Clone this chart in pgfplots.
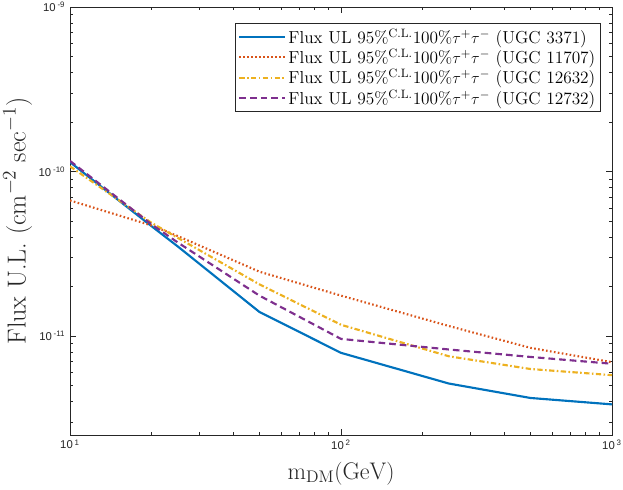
\documentclass[border=0pt]{standalone}
\usepackage{fontspec}
\usepackage{pgfplots}
\pgfplotsset{compat=1.18}
\newfontfamily\tickfont{Liberation Sans}
\definecolor{c1}{rgb}{0,0.447,0.741}
\definecolor{c2}{rgb}{0.850,0.325,0.098}
\definecolor{c3}{rgb}{0.929,0.694,0.125}
\definecolor{c4}{rgb}{0.494,0.184,0.556}
\definecolor{axc}{rgb}{0.15,0.15,0.15}
\newcommand{\lt}[1]{Flux UL 95\%$^{\mathrm{C.L.}}$100\%$\tau^{+}\tau^{-}$ (UGC #1)}
\newcommand{\tl}[1]{{\tickfont 10\,\textsuperscript{#1}}}
\begin{document}
\begin{tikzpicture}
\begin{axis}[
  name=ax,
  scale only axis,
  width=406.5pt, height=321pt,
  xmode=log, ymode=log,
  xmin=10, xmax=1000, ymin=2.5e-12, ymax=1e-9,
  axis line style={axc, line width=0.5pt},
  every tick/.style={axc, line width=0.5pt},
  tick align=inside,
  major tick length=4.5pt, minor tick length=2.5pt,
  xtick={10,100,1000},
  xticklabels={\tl{1},\tl{2},\tl{3}},
  minor xtick={20,30,40,50,60,70,80,90,200,300,400,500,600,700,800,900},
  ytick={1e-11,1e-10,1e-9},
  yticklabels={\tl{-11},\tl{-10},\tl{-9}},
  minor ytick={3e-12,4e-12,5e-12,6e-12,7e-12,8e-12,9e-12,2e-11,3e-11,4e-11,5e-11,6e-11,7e-11,8e-11,9e-11,2e-10,3e-10,4e-10,5e-10,6e-10,7e-10,8e-10,9e-10},
  tick label style={font=\fontsize{8.5}{10}\selectfont, text=axc},
  xlabel={$\mathrm{m_{DM}(GeV)}$},
  ylabel={Flux U.L. (cm$^{-2}$ sec$^{-1}$)},
  xlabel style={at={(axis description cs:0.5,-0.0903)}, anchor=center, font=\fontsize{18}{21}\selectfont, text=axc},
  ylabel style={at={(axis description cs:-0.0965,0.5)}, anchor=center, font=\fontsize{19.5}{23}\selectfont, text=axc},
  legend cell align=left,
  legend image code/.code={\draw[#1] (0pt,0pt) -- (34pt,0pt);},
  legend style={at={(axis description cs:0.9797,0.9626)}, anchor=north east,
    draw=axc, line width=0.5pt, font=\fontsize{13}{15}\selectfont,
    inner xsep=2pt, inner ysep=2pt, row sep=-1pt},
]
\addplot[c1, line width=1.6pt] coordinates {
(10,1.14e-10) (20,4.65e-11) (25,3.5e-11) (50,1.40e-11) (100,7.9e-12) (250,5.14e-12) (500,4.2e-12) (1000,3.84e-12)};
\addlegendentry{\lt{3371}}
\addplot[c2, line width=1.6pt, dash pattern=on 1.2pt off 1.8pt] coordinates {
(10,6.67e-11) (20,4.7e-11) (25,4.05e-11) (50,2.46e-11) (100,1.76e-11) (250,1.15e-11) (500,8.47e-12) (1000,6.93e-12)};
\addlegendentry{\lt{11707}}
\addplot[c3, line width=1.6pt, dash pattern=on 4pt off 1.8pt on 1.2pt off 1.8pt] coordinates {
(10,1.075e-10) (20,4.87e-11) (25,3.95e-11) (50,2.06e-11) (100,1.17e-11) (250,7.53e-12) (500,6.3e-12) (1000,5.78e-12)};
\addlegendentry{\lt{12632}}
\addplot[c4, line width=1.6pt, dash pattern=on 5pt off 3pt] coordinates {
(10,1.16e-10) (20,4.77e-11) (25,3.7e-11) (50,1.76e-11) (100,9.6e-12) (250,8.28e-12) (500,7.46e-12) (1000,6.78e-12)};
\addlegendentry{\lt{12732}}
\end{axis}
\pgfresetboundingbox
\path[use as bounding box] ([xshift=-52.5pt,yshift=-40.5pt]ax.south west) rectangle ([xshift=8.25pt,yshift=5.25pt]ax.north east);
\end{tikzpicture}
\end{document}
